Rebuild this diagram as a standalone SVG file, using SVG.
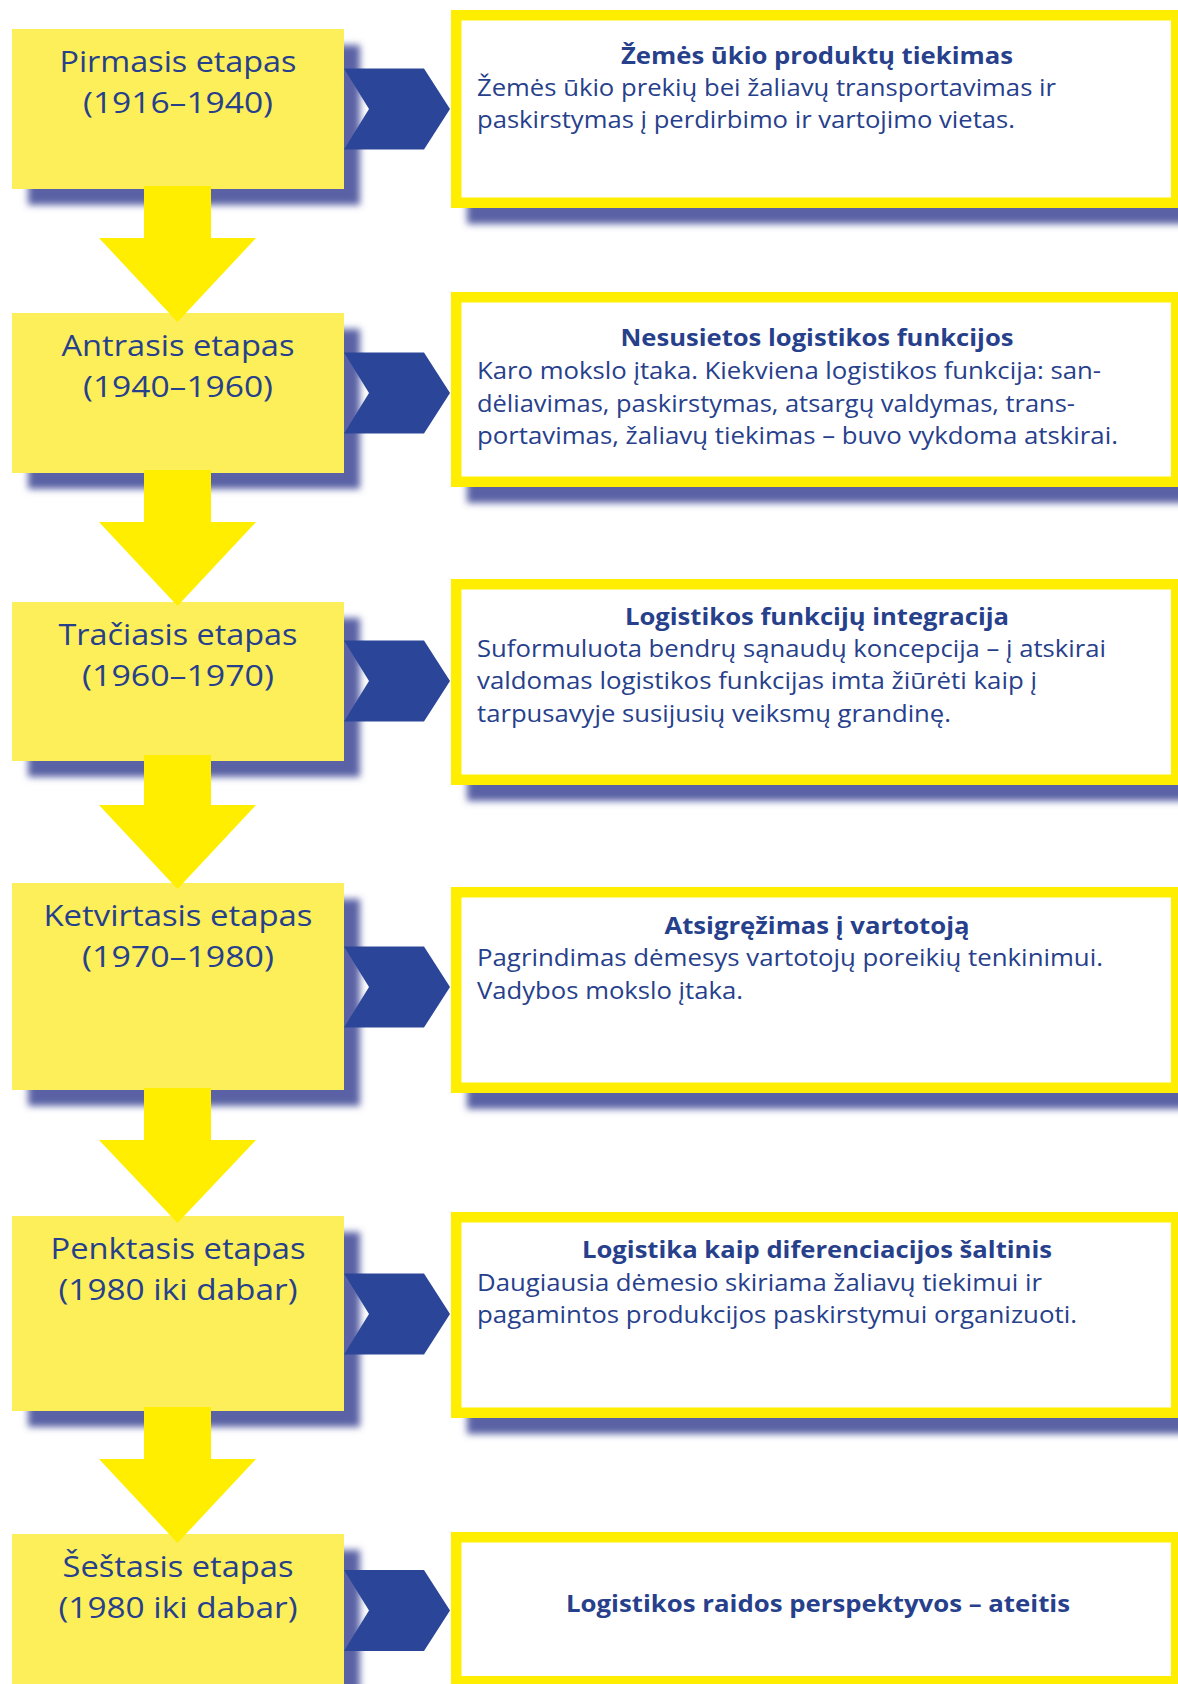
<svg xmlns="http://www.w3.org/2000/svg" width="1178" height="1684" viewBox="0 0 1178 1684">
  <style>
    .stage { fill: #fcef5a; }
    .drop { fill: #5a62a5; filter: url(#soft); }
    .frame { fill: #ffee00; }
    .inner { fill: #ffffff; }
    .stage-label { font-family: "Open Sans", "Noto Sans", "Liberation Sans", sans-serif; font-size: 30px; fill: #27408b; text-anchor: middle; }
    .title { font-family: "Open Sans", "Noto Sans", "Liberation Sans", sans-serif; font-size: 23.5px; font-weight: 700; fill: #27408b; text-anchor: middle; }
    .body { font-family: "Open Sans", "Noto Sans", "Liberation Sans", sans-serif; font-size: 23.5px; fill: #27408b; }
    .down { fill: #ffee00; }
    .chevron { fill: #2b4699; }
  </style>
  <defs>
    <filter id="soft" x="-10%" y="-20%" width="120%" height="140%">
      <feGaussianBlur stdDeviation="3.5"/>
    </filter>
  </defs>
  <rect width="1178" height="1684" fill="#ffffff"/>

  <!-- Stage boxes (left column) -->
  <g id="stage-1">
    <rect class="drop" x="28" y="45" width="332" height="160"/>
    <rect class="stage" x="12" y="29" width="332" height="160"/>
    <text class="stage-label" x="178" y="72" textLength="237" lengthAdjust="spacingAndGlyphs">Pirmasis etapas</text>
    <text class="stage-label" x="178" y="113" textLength="190" lengthAdjust="spacingAndGlyphs">(1916–1940)</text>
  </g>
  <g id="stage-2">
    <rect class="drop" x="28" y="329" width="332" height="160"/>
    <rect class="stage" x="12" y="313" width="332" height="160"/>
    <text class="stage-label" x="178" y="356" textLength="233" lengthAdjust="spacingAndGlyphs">Antrasis etapas</text>
    <text class="stage-label" x="178" y="397" textLength="190" lengthAdjust="spacingAndGlyphs">(1940–1960)</text>
  </g>
  <g id="stage-3">
    <rect class="drop" x="28" y="618" width="332" height="159"/>
    <rect class="stage" x="12" y="602" width="332" height="159"/>
    <text class="stage-label" x="178" y="645" textLength="239" lengthAdjust="spacingAndGlyphs">Tračiasis etapas</text>
    <text class="stage-label" x="178" y="686" textLength="192" lengthAdjust="spacingAndGlyphs">(1960–1970)</text>
  </g>
  <g id="stage-4">
    <rect class="drop" x="28" y="899" width="332" height="207"/>
    <rect class="stage" x="12" y="883" width="332" height="207"/>
    <text class="stage-label" x="178" y="926" textLength="269" lengthAdjust="spacingAndGlyphs">Ketvirtasis etapas</text>
    <text class="stage-label" x="178" y="967" textLength="192" lengthAdjust="spacingAndGlyphs">(1970–1980)</text>
  </g>
  <g id="stage-5">
    <rect class="drop" x="28" y="1232" width="332" height="195"/>
    <rect class="stage" x="12" y="1216" width="332" height="195"/>
    <text class="stage-label" x="178" y="1259" textLength="255" lengthAdjust="spacingAndGlyphs">Penktasis etapas</text>
    <text class="stage-label" x="178" y="1300" textLength="239" lengthAdjust="spacingAndGlyphs">(1980 iki dabar)</text>
  </g>
  <g id="stage-6">
    <rect class="drop" x="28" y="1550" width="332" height="170"/>
    <rect class="stage" x="12" y="1534" width="332" height="170"/>
    <text class="stage-label" x="178" y="1577" textLength="231" lengthAdjust="spacingAndGlyphs">Šeštasis etapas</text>
    <text class="stage-label" x="178" y="1618" textLength="239" lengthAdjust="spacingAndGlyphs">(1980 iki dabar)</text>
  </g>

  <!-- Description boxes (right column) -->
  <g id="desc-1">
    <rect class="drop" x="467" y="26" width="730" height="198"/>
    <rect class="frame" x="451" y="10" width="731" height="198"/>
    <rect class="inner" x="461.5" y="20.5" width="709.5" height="177"/>
    <text class="title" x="817" y="64" textLength="392" lengthAdjust="spacingAndGlyphs">Žemės ūkio produktų tiekimas</text>
    <text class="body" x="477" y="96" textLength="579" lengthAdjust="spacingAndGlyphs">Žemės ūkio prekių bei žaliavų transportavimas ir</text>
    <text class="body" x="477" y="128" textLength="538" lengthAdjust="spacingAndGlyphs">paskirstymas į perdirbimo ir vartojimo vietas.</text>
  </g>
  <g id="desc-2">
    <rect class="drop" x="467" y="308" width="730" height="195"/>
    <rect class="frame" x="451" y="292" width="731" height="195"/>
    <rect class="inner" x="461.5" y="302.5" width="709.5" height="174"/>
    <text class="title" x="817" y="346" textLength="393" lengthAdjust="spacingAndGlyphs">Nesusietos logistikos funkcijos</text>
    <text class="body" x="477" y="379" textLength="624" lengthAdjust="spacingAndGlyphs">Karo mokslo įtaka. Kiekviena logistikos funkcija: san-</text>
    <text class="body" x="477" y="412" textLength="598" lengthAdjust="spacingAndGlyphs">dėliavimas, paskirstymas, atsargų valdymas, trans-</text>
    <text class="body" x="477" y="444" textLength="641" lengthAdjust="spacingAndGlyphs">portavimas, žaliavų tiekimas – buvo vykdoma atskirai.</text>
  </g>
  <g id="desc-3">
    <rect class="drop" x="467" y="595" width="730" height="206"/>
    <rect class="frame" x="451" y="579" width="731" height="206"/>
    <rect class="inner" x="461.5" y="589.5" width="709.5" height="185"/>
    <text class="title" x="817" y="625" textLength="384" lengthAdjust="spacingAndGlyphs">Logistikos funkcijų integracija</text>
    <text class="body" x="477" y="657" textLength="629" lengthAdjust="spacingAndGlyphs">Suformuluota bendrų sąnaudų koncepcija – į atskirai</text>
    <text class="body" x="477" y="689" textLength="560" lengthAdjust="spacingAndGlyphs">valdomas logistikos funkcijas imta žiūrėti kaip į</text>
    <text class="body" x="477" y="722" textLength="474" lengthAdjust="spacingAndGlyphs">tarpusavyje susijusių veiksmų grandinę.</text>
  </g>
  <g id="desc-4">
    <rect class="drop" x="467" y="903" width="730" height="206"/>
    <rect class="frame" x="451" y="887" width="731" height="206"/>
    <rect class="inner" x="461.5" y="897.5" width="709.5" height="185"/>
    <text class="title" x="817" y="934" textLength="305" lengthAdjust="spacingAndGlyphs">Atsigręžimas į vartotoją</text>
    <text class="body" x="477" y="966" textLength="626" lengthAdjust="spacingAndGlyphs">Pagrindimas dėmesys vartotojų poreikių tenkinimui.</text>
    <text class="body" x="477" y="999" textLength="266" lengthAdjust="spacingAndGlyphs">Vadybos mokslo įtaka.</text>
  </g>
  <g id="desc-5">
    <rect class="drop" x="467" y="1228" width="730" height="206"/>
    <rect class="frame" x="451" y="1212" width="731" height="206"/>
    <rect class="inner" x="461.5" y="1222.5" width="709.5" height="185"/>
    <text class="title" x="817" y="1258" textLength="470" lengthAdjust="spacingAndGlyphs">Logistika kaip diferenciacijos šaltinis</text>
    <text class="body" x="477" y="1291" textLength="565" lengthAdjust="spacingAndGlyphs">Daugiausia dėmesio skiriama žaliavų tiekimui ir</text>
    <text class="body" x="477" y="1323" textLength="600" lengthAdjust="spacingAndGlyphs">pagamintos produkcijos paskirstymui organizuoti.</text>
  </g>
  <g id="desc-6">
    <rect class="drop" x="467" y="1548" width="730" height="160"/>
    <rect class="frame" x="451" y="1532" width="731" height="160"/>
    <rect class="inner" x="461.5" y="1542.5" width="709.5" height="133.5"/>
    <text class="title" x="818" y="1612" textLength="504" lengthAdjust="spacingAndGlyphs">Logistikos raidos perspektyvos – ateitis</text>
  </g>

  <!-- Connectors: yellow down arrows between stages, blue chevrons to descriptions -->
  <g id="connectors">
    <polygon class="down" points="144,186 211,186 211,238 256,238 177.5,322 99,238 144,238"/>
    <polygon class="down" points="144,470 211,470 211,522 256,522 177.5,606 99,522 144,522"/>
    <polygon class="down" points="144,755 211,755 211,805 256,805 177.5,889 99,805 144,805"/>
    <polygon class="down" points="144,1088 211,1088 211,1140 256,1140 177.5,1223 99,1140 144,1140"/>
    <polygon class="down" points="144,1407 211,1407 211,1459 256,1459 177.5,1543 99,1459 144,1459"/>

    <polygon class="chevron" points="344,68.5 424,68.5 450,109 424,149.5 344,149.5 369,109"/>
    <polygon class="chevron" points="344,352.5 424,352.5 450,393 424,433.5 344,433.5 369,393"/>
    <polygon class="chevron" points="344,640.5 424,640.5 450,681 424,721.5 344,721.5 369,681"/>
    <polygon class="chevron" points="344,946.5 424,946.5 450,987 424,1027.5 344,1027.5 369,987"/>
    <polygon class="chevron" points="344,1273.5 424,1273.5 450,1314 424,1354.5 344,1354.5 369,1314"/>
    <polygon class="chevron" points="344,1570 424,1570 450,1610.5 424,1651 344,1651 369,1610.5"/>
  </g>
</svg>
